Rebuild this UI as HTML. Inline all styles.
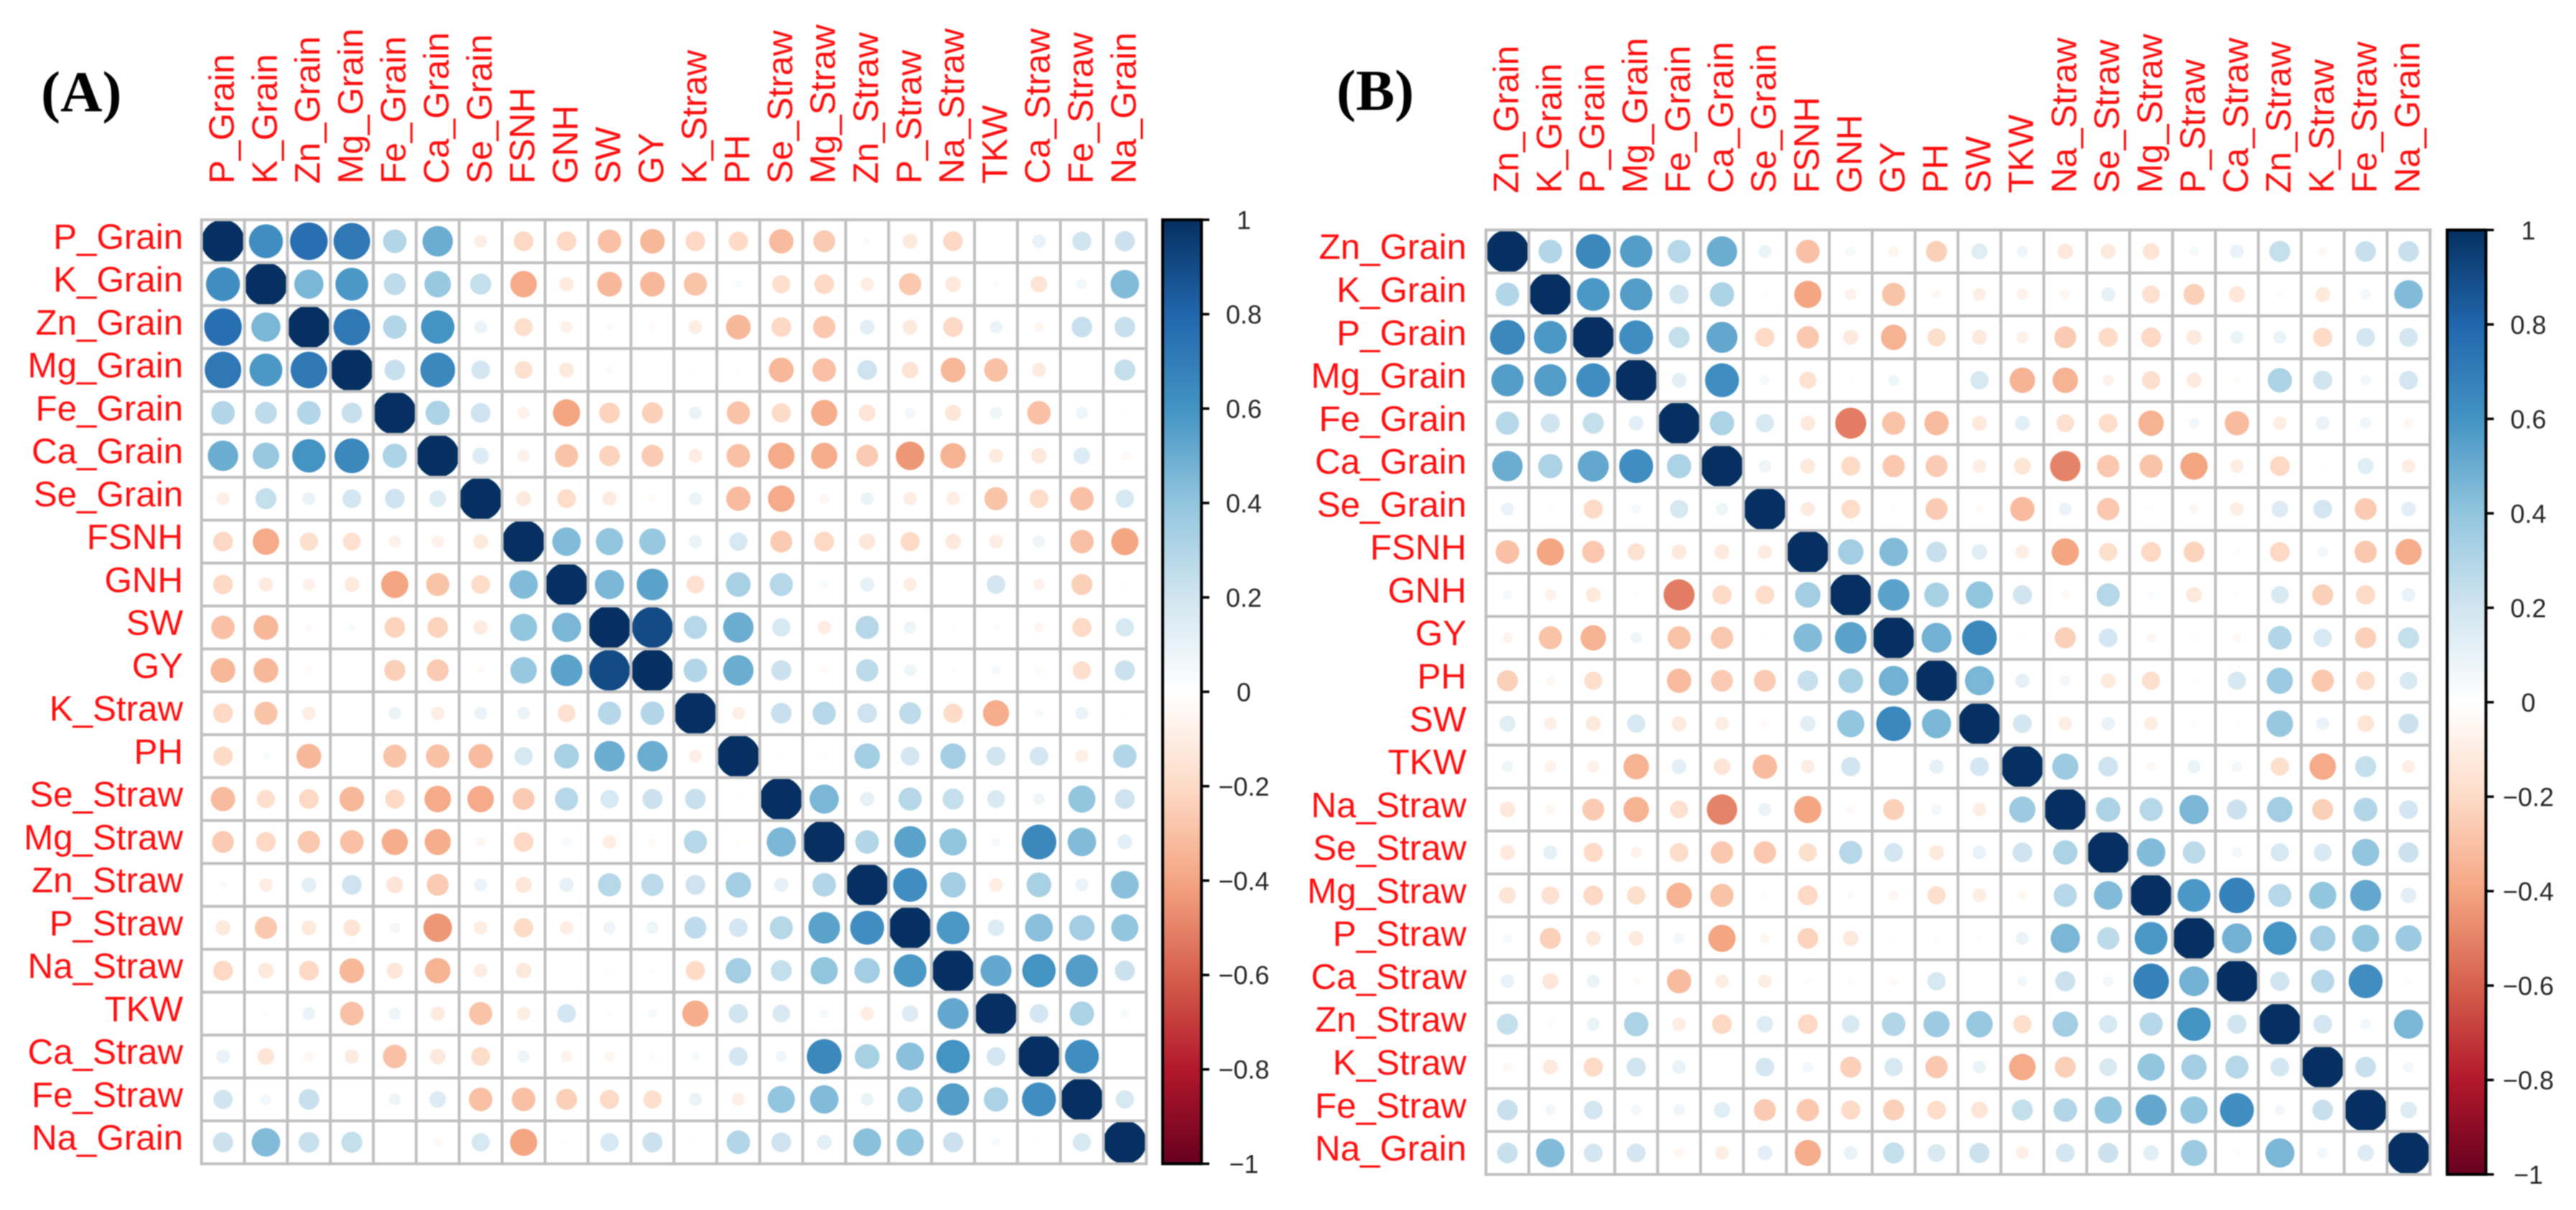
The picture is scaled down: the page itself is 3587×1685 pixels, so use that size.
<!DOCTYPE html>
<html lang="en">
<head>
<meta charset="utf-8">
<title>Correlation matrices (A) and (B)</title>
<style>
  html, body { margin: 0; padding: 0; background: #fff; }
  body { width: 3587px; height: 1685px; overflow: hidden; }
  svg { display: block; filter: blur(0.9px); }
  .axis-label { font-family: "Liberation Sans", sans-serif; font-size: 49.3px; fill: #ff1010; }
  .tick-label { font-family: "Liberation Sans", sans-serif; font-size: 36px; fill: #262626; text-anchor: middle; }
  .panel-title { font-family: "Liberation Serif", serif; font-size: 81px; font-weight: bold; fill: #000; }
</style>
</head>
<body>
<svg id="figure" xmlns="http://www.w3.org/2000/svg" width="3587" height="1685" viewBox="0 0 3587 1685">
  <defs>
    <linearGradient id="colorbar-gradient" x1="0" y1="0" x2="0" y2="1"></linearGradient>
  </defs>
  <rect x="0" y="0" width="3587" height="1685" fill="#ffffff"/>
  <text class="panel-title" x="57" y="155">(A)</text>
  <text class="panel-title" x="1861" y="153">(B)</text>
</svg>
<script>
const labelsA = ["P_Grain","K_Grain","Zn_Grain","Mg_Grain","Fe_Grain","Ca_Grain","Se_Grain","FSNH","GNH","SW","GY","K_Straw","PH","Se_Straw","Mg_Straw","Zn_Straw","P_Straw","Na_Straw","TKW","Ca_Straw","Fe_Straw","Na_Grain"];
const labelsB = ["Zn_Grain","K_Grain","P_Grain","Mg_Grain","Fe_Grain","Ca_Grain","Se_Grain","FSNH","GNH","GY","PH","SW","TKW","Na_Straw","Se_Straw","Mg_Straw","P_Straw","Ca_Straw","Zn_Straw","K_Straw","Fe_Straw","Na_Grain"];

// Upper triangle of each symmetric correlation matrix; each row starts at the diagonal.
const valuesA = [
  [1,.62,.76,.72,.30,.50,-.09,-.21,-.21,-.30,-.33,-.21,-.20,-.32,-.26,.03,-.12,-.21,0,.10,.20,.22],
  [1,.46,.58,.26,.38,.24,-.38,-.11,-.33,-.33,-.29,.03,-.18,-.21,-.10,-.27,-.13,.02,-.15,.06,.44],
  [1,.72,.30,.60,.09,-.18,-.08,-.03,-.03,-.10,-.33,-.21,-.27,.12,-.12,-.21,.09,-.05,.23,.23],
  [1,.23,.65,.19,-.17,-.12,.03,.005,-.01,-.01,-.33,-.30,.21,-.15,-.33,-.30,-.11,-.01,.24],
  [1,.32,.21,-.08,-.40,-.23,-.24,.09,-.29,-.20,-.37,-.15,.06,-.14,.08,-.30,.08,-.005],
  [1,.15,-.08,-.29,-.23,-.26,-.10,-.30,-.38,-.37,-.26,-.44,-.35,-.11,-.13,.15,-.04],
  [1,-.12,-.19,-.11,-.03,.09,-.32,-.38,-.05,.09,-.10,-.10,-.29,-.19,-.30,.18],
  [1,.44,.40,.38,.09,.18,-.26,-.21,-.14,-.20,-.13,-.10,.08,-.30,-.40],
  [1,.46,.54,-.17,.33,.29,.04,.11,-.10,.005,.19,-.07,-.24,.015],
  [1,.90,.29,.50,.18,-.10,.29,.08,-.015,.02,-.05,-.20,.18],
  [1,.30,.50,.22,-.03,.27,.08,-.015,.045,-.03,-.18,.22],
  [1,-.09,.23,.29,.21,.26,-.20,-.37,.04,.09,-.01],
  [1,.01,-.02,.35,.19,.35,.20,.19,-.09,.30],
  [1,.46,.11,.29,.24,.17,.07,.40,.21],
  [1,.30,.54,.40,.045,.65,.44,.12],
  [1,.62,.35,-.10,.33,.09,.42],
  [1,.58,.15,.42,.35,.40],
  [1,.52,.60,.56,.22],
  [1,.19,.32,.04],
  [1,.62,.01],
  [1,.18],
  [1]
];
const valuesB = [
  [1,.30,.65,.56,.29,.50,.09,-.30,.05,-.06,-.24,.14,.07,-.13,-.12,-.15,.05,.10,.24,-.045,.23,.23],
  [1,.58,.56,.20,.32,.02,-.40,-.07,-.29,-.045,-.09,-.07,-.05,.11,-.17,-.24,-.14,.025,-.12,.06,.44],
  [1,.62,.24,.52,-.20,-.27,-.12,-.35,-.18,-.12,-.08,-.26,-.20,-.21,-.12,.09,.09,-.20,.19,.19],
  [1,.12,.62,.05,-.16,-.015,.07,.01,.18,-.35,-.35,-.07,-.18,-.12,-.03,.32,.20,.06,.19],
  [1,.32,.18,-.12,-.52,-.29,-.32,-.12,.12,-.17,-.19,-.35,.06,-.32,-.10,.10,.07,-.05],
  [1,.08,-.12,-.20,-.27,-.26,-.10,-.15,-.50,-.27,-.29,-.40,-.10,-.21,-.01,.14,-.10],
  [1,-.11,-.19,-.02,-.26,-.03,-.32,.09,-.27,.02,-.05,-.10,.15,.19,-.26,.12],
  [1,.35,.44,.23,.13,-.10,-.40,-.18,-.21,-.23,.02,-.21,.06,-.27,-.37],
  [1,.54,.33,.40,.20,-.04,.29,.03,-.13,-.02,.17,-.24,-.20,.10],
  [1,.48,.65,-.015,-.24,.19,-.05,.015,-.04,.30,.18,-.24,.24],
  [1,.46,.11,.06,-.12,-.18,.02,.18,.37,-.27,-.19,.17],
  [1,.19,-.10,.10,-.10,.02,.01,.38,.09,-.15,.22],
  [1,.37,.21,-.045,.09,.06,-.18,-.38,.24,-.09],
  [1,.32,.29,.46,.22,.35,-.24,.30,.19],
  [1,.44,.27,.06,.18,.17,.40,.22],
  [1,.58,.68,.29,.40,.52,.13],
  [1,.48,.60,.35,.40,.37],
  [1,.20,.29,.62,.02],
  [1,.19,.06,.46],
  [1,.23,.06],
  [1,.15],
  [1]
];

const colorbarTicks = [1, 0.8, 0.6, 0.4, 0.2, 0, -0.2, -0.4, -0.6, -0.8, -1];
const colorbarTickLabels = ["1", "0.8", "0.6", "0.4", "0.2", "0", "\u22120.2", "\u22120.4", "\u22120.6", "\u22120.8", "\u22121"];
const divergingPalette = ["#67001F","#B2182B","#D6604D","#F4A582","#FDDBC7","#FFFFFF","#D1E5F0","#92C5DE","#4393C3","#2166AC","#053061"];

const NS = "http://www.w3.org/2000/svg";
const svg = document.getElementById("figure");

function make(tag, attrs, parent) {
  const el = document.createElementNS(NS, tag);
  for (const k in attrs) el.setAttribute(k, attrs[k]);
  parent.appendChild(el);
  return el;
}
function hexToRgb(h) {
  return [parseInt(h.slice(1, 3), 16), parseInt(h.slice(3, 5), 16), parseInt(h.slice(5, 7), 16)];
}
function colorScale(v) {
  const t = (Math.max(-1, Math.min(1, v)) + 1) / 2 * (divergingPalette.length - 1);
  const i = Math.min(Math.floor(t), divergingPalette.length - 2);
  const a = hexToRgb(divergingPalette[i]);
  const b = hexToRgb(divergingPalette[i + 1]);
  const f = t - i;
  return "rgb(" + [0, 1, 2].map(function (c) { return Math.round(a[c] + (b[c] - a[c]) * f); }).join(",") + ")";
}
function cellValue(values, r, c) {
  return r <= c ? values[r][c - r] : values[c][r - c];
}
function slug(s) {
  return s.toLowerCase().replace(/_/g, "-");
}

divergingPalette.forEach(function (col, i) {
  make("stop", { offset: (1 - i / (divergingPalette.length - 1)), "stop-color": col }, svg.querySelector("#colorbar-gradient"));
});
// Stops must ascend in offset.
(function () {
  const g = svg.querySelector("#colorbar-gradient");
  Array.from(g.children).reverse().forEach(function (s) { g.appendChild(s); });
})();

function drawPanel(panel) {
  const labels = panel.labels;
  const n = labels.length;
  const group = make("g", {}, svg);
  
  

  const xEdge = function (i) { return panel.x0 + i * panel.step; };
  const yEdge = function (i) { return panel.y0 + i * panel.stepY; };
  const xCenter = function (i) { return xEdge(i + 0.5); };
  const yCenter = function (i) { return yEdge(i + 0.5); };
  const radiusScale = function (v) { return panel.maxRadius * Math.sqrt(Math.abs(v)); };

  // circles
  for (let r = 0; r < n; r++) {
    for (let c = 0; c < n; c++) {
      const v = cellValue(panel.values, r, c);
      const circle = make("circle", { cx: xCenter(c), cy: yCenter(r), r: radiusScale(v), fill: colorScale(v) }, group);
      
      
    }
  }

  // grid on top of the circles
  const grid = make("g", { stroke: "#c0c0c0", "stroke-width": 4 }, group);
  
  
  for (let i = 0; i <= n; i++) {
    make("line", { x1: xEdge(i), x2: xEdge(i), y1: yEdge(0) - 2, y2: yEdge(n) + 2 }, grid);
    make("line", { x1: xEdge(0) - 2, x2: xEdge(n) + 2, y1: yEdge(i), y2: yEdge(i) }, grid);
  }

  // labels
  labels.forEach(function (name, i) {
    const rowLabel = make("text", { class: "axis-label", x: panel.rowLabelX, y: yCenter(i) + 10.5, "text-anchor": "end" }, group);
    rowLabel.textContent = name;
    
    

    const cx = xCenter(i) + 15;
    const colLabel = make("text", { class: "axis-label", x: cx, y: panel.colLabelY, transform: "rotate(-90 " + cx + " " + panel.colLabelY + ")" }, group);
    colLabel.textContent = name;
    
    
  });

  // colour legend
  const barTop = yEdge(0);
  const barBottom = yEdge(n);
  const barLeft = panel.barX;
  const barRight = panel.barX + 54;
  const legendY = function (v) { return barTop + (1 - v) / 2 * (barBottom - barTop); };

  const legend = make("g", {}, group);
  
  
  make("rect", { x: barLeft, y: barTop, width: barRight - barLeft, height: barBottom - barTop, fill: "url(#colorbar-gradient)", stroke: "#000", "stroke-width": 4 }, legend);

  colorbarTicks.forEach(function (v, i) {
    const y = legendY(v);
    const tick = make("line", { x1: barRight, x2: barRight + 11, y1: y, y2: y, stroke: "#000", "stroke-width": 3.5 }, legend);
    
    
    const text = make("text", { class: "tick-label", x: panel.barX + 113, y: y + 13 }, legend);
    text.textContent = colorbarTickLabels[i];
    
    
  });
}

drawPanel({ id: "a", labels: labelsA, values: valuesA, x0: 280.6, y0: 306.1, step: 59.8, stepY: 59.75, maxRadius: 30, rowLabelX: 255, colLabelY: 256, barX: 1619 });
drawPanel({ id: "b", labels: labelsB, values: valuesB, x0: 2069.2, y0: 320.3, step: 59.75, stepY: 59.78, maxRadius: 30, rowLabelX: 2042, colLabelY: 269, barX: 3407.6 });
</script>
</body>
</html>
